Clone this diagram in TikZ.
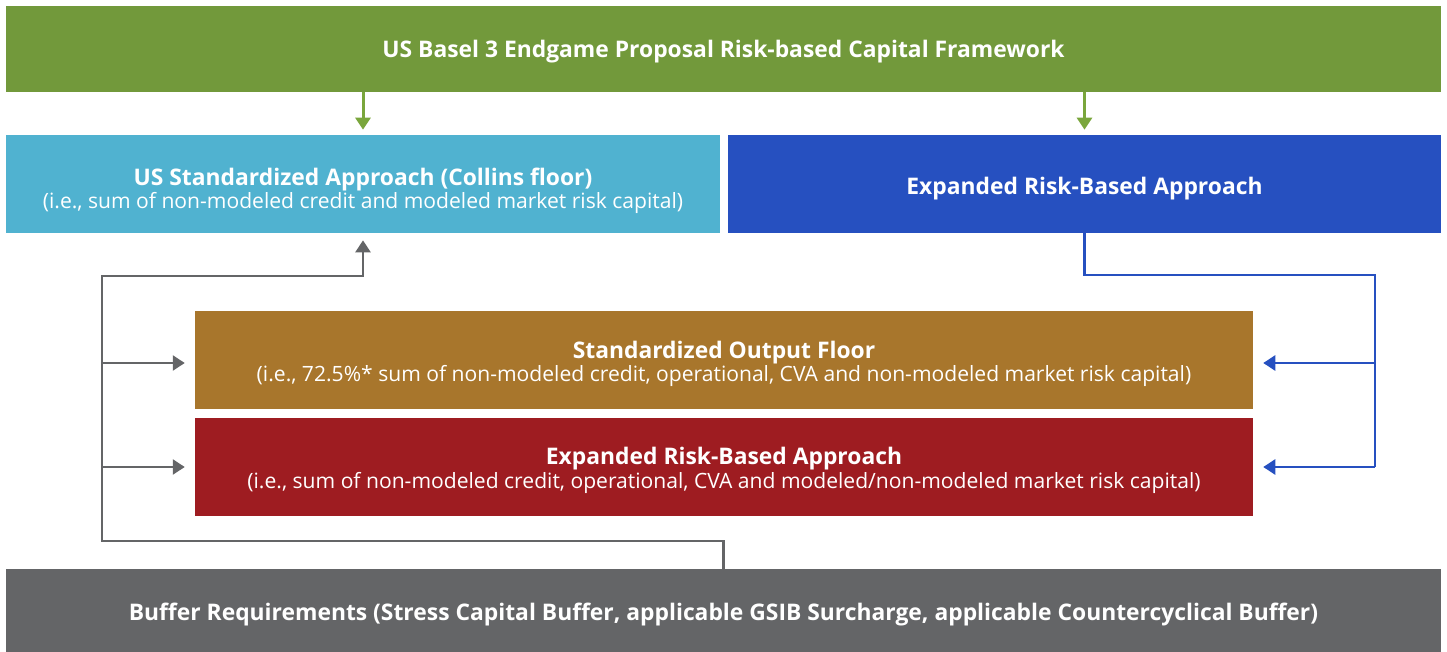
\documentclass[tikz,border=0pt]{standalone}
\usepackage{fontspec}
\setmainfont{Open Sans}
\usetikzlibrary{arrows.meta,positioning,calc}
\definecolor{frameGreen}{RGB}{114,153,59}
\definecolor{arrowGreen}{RGB}{122,166,60}
\definecolor{stdBlue}{RGB}{80,178,208}
\definecolor{erbaBlue}{RGB}{38,80,192}
\definecolor{floorGold}{RGB}{168,118,44}
\definecolor{erbaRed}{RGB}{158,28,33}
\definecolor{bufferGrey}{RGB}{100,101,103}
\definecolor{lineGrey}{RGB}{100,101,103}
% bold box heading, optional strut pushes the text block down
\newcommand{\boxhead}[2][15pt]{\rule{0pt}{#1}{\fontsize{13}{13.5}\selectfont\bfseries #2}}

\tikzset{
  box/.style={rectangle, text=white, align=center, inner sep=0pt,
    font=\fontsize{12}{13.3}\selectfont},
  tip/.style={-{Triangle[length=0.24cm,width=0.3cm]}},
  greenarrow/.style={tip, line width=0.06cm, arrowGreen},
  greyline/.style={line width=0.05cm, lineGrey},
  blueline/.style={line width=0.05cm, erbaBlue}
}

\begin{document}
\begin{tikzpicture}[x=0.02cm, y=-0.02cm]
  \useasboundingbox (0,0) rectangle (1447,652);

  % Draw boxes
  \node[box, fill=frameGreen, minimum width=28.7cm, minimum height=1.72cm] (frame) at (723.5,49)
    {\boxhead[13pt]{US Basel 3 Endgame Proposal Risk-based Capital Framework}};
  \node[box, fill=stdBlue, minimum width=14.28cm, minimum height=1.96cm] (std) at (363,184)
    {\boxhead[18pt]{US Standardized Approach (Collins floor)}\\(i.e., sum of non-modeled credit and modeled market risk capital)};
  \node[box, fill=erbaBlue, minimum width=14.26cm, minimum height=1.96cm] (erba) at (1084.5,184)
    {\boxhead{Expanded Risk-Based Approach}};
  \node[box, fill=floorGold, minimum width=21.16cm, minimum height=1.96cm] (floor) at (724,360)
    {\boxhead[14pt]{Standardized Output Floor}\\(i.e., 72.5\%* sum of non-modeled credit, operational, CVA and non-modeled market risk capital)};
  \node[box, fill=erbaRed, minimum width=21.16cm, minimum height=1.96cm] (erbatwo) at (724,467)
    {\boxhead[13.5pt]{Expanded Risk-Based Approach}\\(i.e., sum of non-modeled credit, operational, CVA and modeled/non-modeled market risk capital)};
  \node[box, fill=bufferGrey, minimum width=28.7cm, minimum height=1.66cm] (buffer) at (723.5,610.5)
    {\boxhead{Buffer Requirements (Stress Capital Buffer, applicable GSIB Surcharge, applicable Countercyclical Buffer)}};

  % Draw arrows from the framework
  \draw[greenarrow, shorten >=0.1cm] (frame.south -| std.north) -- (std.north);
  \draw[greenarrow, shorten >=0.1cm] (frame.south -| erba.north) -- (erba.north);

  % Draw buffer connections
  \coordinate (gbus) at (102,541);
  \coordinate (gtop) at (102,276);
  \draw[greyline, tip, shorten >=0.14cm] (buffer.north) |- (gbus) -- (gtop) -| (std.south);
  \draw[greyline, tip, shorten >=0.2cm] ([yshift=-0.06cm]gtop |- floor.west) -- ([yshift=-0.06cm]floor.west);
  \draw[greyline, tip, shorten >=0.2cm] (gtop |- erbatwo.west) -- (erbatwo.west);

  % Draw expanded approach connections
  \coordinate (bbus) at (1375,275);
  \draw[blueline] (erba.south) |- (bbus) -- (bbus |- erbatwo.east);
  \draw[blueline, tip, shorten >=0.2cm] ([yshift=-0.06cm]bbus |- floor.east) -- ([yshift=-0.06cm]floor.east);
  \draw[blueline, tip, shorten >=0.2cm] (bbus |- erbatwo.east) -- (erbatwo.east);
\end{tikzpicture}
\end{document}
